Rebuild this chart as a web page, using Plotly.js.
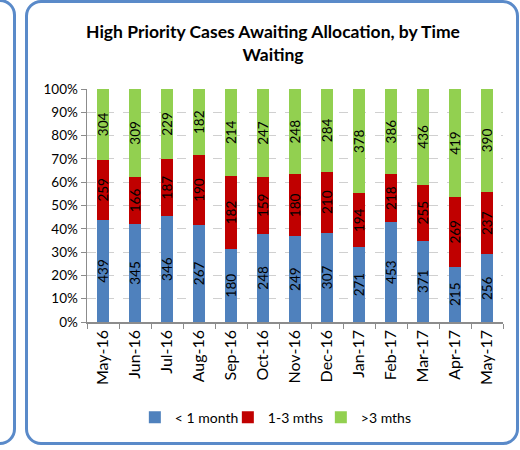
<!DOCTYPE html>
<html><head><meta charset="utf-8">
<script src="https://cdn.plot.ly/plotly-3.0.1.min.js"></script>
<style>
body{margin:0;padding:0;background:#fff;}
#wrap{position:relative;width:520px;height:450px;overflow:hidden;}
#chart{position:absolute;left:0;top:0;width:520px;height:450px;}
.frame{position:absolute;border:3px solid #5a8ac9;border-radius:16px;pointer-events:none;}
</style>
</head><body>
<div id="wrap">
<div id="chart"></div>
<div class="frame" style="left:-40px;top:-1px;width:50px;height:440px;"></div>
<div class="frame" style="left:25px;top:0px;width:488px;height:439px;"></div>
</div>
<script>
const categories = ["May-16","Jun-16","Jul-16","Aug-16","Sep-16","Oct-16","Nov-16","Dec-16","Jan-17","Feb-17","Mar-17","Apr-17","May-17"];
const lessThan1Month = [439,345,346,267,180,248,249,307,271,453,371,215,256];
const oneToThreeMonths = [259,166,187,190,182,159,180,210,194,218,255,269,237];
const moreThan3Months = [304,309,229,182,214,247,248,284,378,386,436,419,390];
const seriesNames = ["< 1 month","1-3 mths",">3 mths"];
const colors = ["#4f81bd","#c00000","#92d050"];

const font = "Lato, 'Liberation Sans', sans-serif";
const series = [lessThan1Month, oneToThreeMonths, moreThan3Months];
const traces = series.map((vals,i)=>({
  type:"bar", x:categories, y:vals, name:seriesNames[i],
  marker:{color:colors[i]},
  text:vals.map(String), textposition:"inside", insidetextanchor:"middle",
  textangle:-90, textfont:{family:font,size:13.5,color:"#000"},
  constraintext:"none", hoverinfo:"skip"
}));

const layout = {
  width:520, height:450,
  margin:{l:87,r:17,t:89,b:128},
  paper_bgcolor:"rgba(0,0,0,0)", plot_bgcolor:"rgba(0,0,0,0)",
  barmode:"stack", barnorm:"percent", bargap:0.6,
  title:{text:"<b>High Priority Cases Awaiting Allocation, by Time<br>Waiting</b>",
    font:{family:font,size:17.5,color:"#000"}, x:0.525, xref:"container", xanchor:"center",
    y:0.915, yref:"container", yanchor:"top"},
  xaxis:{type:"category", tickangle:-90, tickfont:{family:font,size:16,color:"#000"},
    showline:true, linecolor:"#8c8c8c", linewidth:1.5, ticks:"outside", tickson:"boundaries",
    ticklen:5, tickcolor:"#8c8c8c", showgrid:false, automargin:false},
  yaxis:{range:[0,100], dtick:10, ticksuffix:"%", tickfont:{family:font,size:13.5,color:"#000"},
    showline:true, linecolor:"#8c8c8c", linewidth:1.5, ticks:"outside", ticklen:5, tickcolor:"#8c8c8c",
    showgrid:true, gridcolor:"#d0d0d0", griddash:"dash", gridwidth:1, zeroline:false, automargin:false},
  showlegend:true,
  legend:{orientation:"h", x:0.115, xanchor:"left", y:-0.41, yanchor:"middle",
    font:{family:font,size:14,color:"#000"}, traceorder:"normal", itemwidth:30,
    entrywidth:48, entrywidthmode:"pixels"}
};
Plotly.newPlot("chart", traces, layout, {displayModeBar:false, staticPlot:true});
</script>
</body></html>
